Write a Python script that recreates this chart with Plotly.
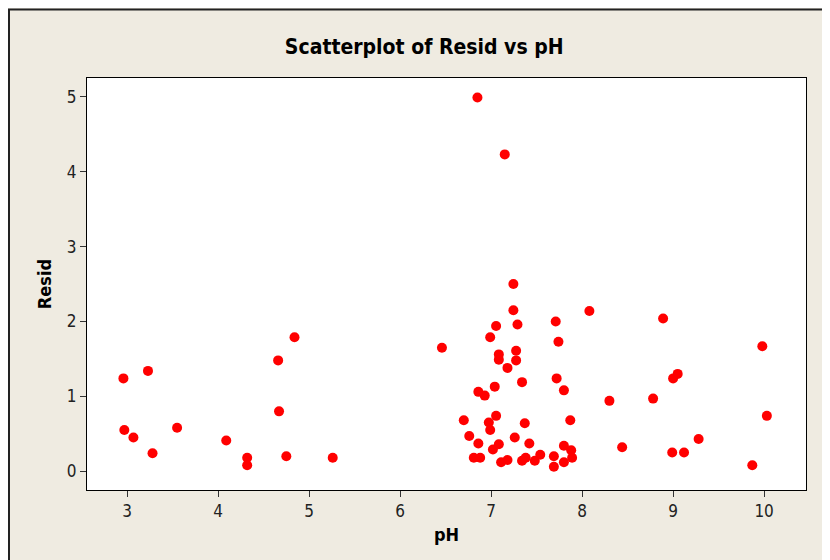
import plotly.graph_objects as go

# residuals vs pH
ph = [2.96, 3.23, 2.97, 3.07, 3.28, 3.55, 4.09, 4.32, 4.32, 4.66, 4.67, 4.75, 4.84, 5.26,
      6.85, 7.15,
      7.245, 7.245, 8.08, 7.055, 7.29, 7.71, 6.99, 7.74, 6.46, 7.085, 7.085, 7.275, 7.275,
      7.18, 7.34, 7.72, 7.80, 7.04, 6.86, 6.93, 8.30, 6.70, 7.055, 6.975, 6.99, 7.37, 7.87,
      6.76, 7.26, 6.86, 7.085, 7.02, 7.42, 7.80, 7.88, 6.81, 6.88, 7.11, 7.18, 7.34, 7.38,
      7.48, 7.54, 7.69, 7.69, 7.80, 7.89,
      8.89, 9.98, 9.05, 9.00, 8.78, 10.03, 9.28, 8.44, 8.99, 9.12, 9.87]
resid = [1.24, 1.34, 0.55, 0.45, 0.24, 0.58, 0.41, 0.18, 0.08, 1.48, 0.80, 0.20, 1.79, 0.18,
         4.99, 4.23,
         2.50, 2.15, 2.14, 1.94, 1.96, 2.00, 1.79, 1.73, 1.65, 1.56, 1.49, 1.61, 1.48,
         1.38, 1.19, 1.24, 1.08, 1.13, 1.06, 1.01, 0.94, 0.68, 0.74, 0.65, 0.55, 0.64, 0.68,
         0.47, 0.45, 0.37, 0.36, 0.29, 0.37, 0.34, 0.28, 0.18, 0.18, 0.12, 0.15, 0.14, 0.18,
         0.14, 0.22, 0.20, 0.06, 0.12, 0.18,
         2.04, 1.67, 1.30, 1.24, 0.97, 0.74, 0.43, 0.32, 0.25, 0.25, 0.08]

x_ticks = [3, 4, 5, 6, 7, 8, 9, 10]
y_ticks = [0, 1, 2, 3, 4, 5]

font_main = "DejaVu Sans Condensed"
bg = "#EFEBE1"

fig = go.Figure(go.Scatter(x=ph, y=resid, mode="markers",
                           marker=dict(color="#FF0000", size=10, line=dict(width=0))))

# page body has an 8px margin, so the figure is 8px smaller than the window
fig.update_layout(
    width=822, height=552,
    margin=dict(l=79, r=24, t=70, b=70),
    paper_bgcolor=bg, plot_bgcolor="white",
    showlegend=False,
    title=dict(text="<b>Scatterplot of Resid vs pH</b>",
               x=0.469, xref="paper", xanchor="center",
               y=1 - 39 / 552, yref="container", yanchor="middle",
               font=dict(family=font_main, size=21, color="black")),
    font=dict(family=font_main, size=17, color="#222"),
)

fig.update_xaxes(range=[2.56, 10.46], tickvals=x_ticks, showgrid=False, zeroline=False,
                 showline=True, linecolor="black", linewidth=1, mirror=True,
                 ticks="outside", ticklen=6, tickcolor="#333",
                 title=dict(text="<b>pH</b>", standoff=7,
                            font=dict(family=font_main, size=18, color="black")))
fig.update_yaxes(range=[-0.25, 5.25], tickvals=y_ticks, showgrid=False, zeroline=False,
                 showline=True, linecolor="black", linewidth=1, mirror=True,
                 ticks="outside", ticklen=6, tickcolor="#333",
                 title=dict(text="<b>Resid</b>", standoff=10,
                            font=dict(family=font_main, size=18, color="black")))

# thin outer frame like the exported graph window
fig.add_shape(type="rect", xref="paper", yref="paper",
              x0=-0.1085, x1=1.3, y0=-0.5, y1=1.1663,
              line=dict(color="#222", width=2), fillcolor="rgba(0,0,0,0)", layer="below")

fig.write_html("out.html")
